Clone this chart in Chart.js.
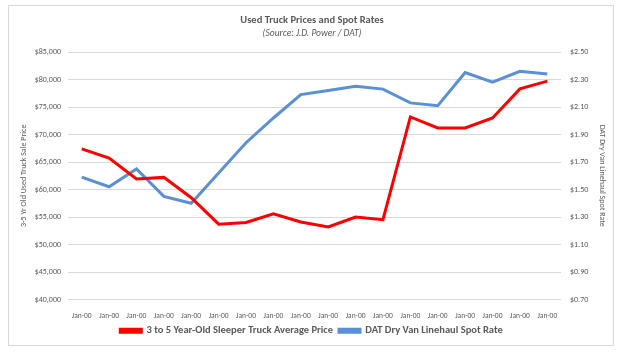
<!DOCTYPE html>
<html><head><meta charset="utf-8">
<script src="https://cdn.jsdelivr.net/npm/chart.js@4.4.1/dist/chart.umd.min.js"></script>
<style>
html,body{margin:0;padding:0;background:#fff;}
#wrap{position:relative;width:624px;height:355px;}
#frame{position:absolute;left:8px;top:5px;width:606px;height:341px;border:1px solid #d9d9d9;box-sizing:border-box;}
canvas{position:absolute;left:0;top:0;}
</style></head>
<body>
<div id="wrap"><div id="frame"></div><canvas id="c" width="624" height="355"></canvas></div>
<script>
const categories = ["Jan-00","Jan-00","Jan-00","Jan-00","Jan-00","Jan-00","Jan-00","Jan-00","Jan-00","Jan-00","Jan-00","Jan-00","Jan-00","Jan-00","Jan-00","Jan-00","Jan-00","Jan-00"];
const truckPrice = [67400,65700,61900,62200,58500,53700,54000,55600,54100,53200,55000,54500,73200,71200,71200,73000,78300,79700];
const spotRate = [1.59,1.52,1.65,1.45,1.40,1.62,1.84,2.02,2.19,2.22,2.25,2.23,2.13,2.11,2.35,2.28,2.36,2.34];
const titleText = "Used Truck Prices and Spot Rates";
const subtitleText = "(Source: J.D. Power / DAT)";
const FONT = "Carlito, 'Open Sans', 'Liberation Sans', sans-serif";
const GREY = '#595959';

const titlePlugin = {
  id:'customTitle',
  afterDraw(chart){
    const ctx = chart.ctx;
    ctx.save();
    ctx.fillStyle = GREY;
    ctx.textAlign = 'center';
    ctx.textBaseline = 'middle';
    ctx.font = "bold 10.5px " + FONT;
    ctx.fillText(titleText, 312, 20);
    ctx.font = "italic 9.5px " + FONT;
    ctx.fillText(subtitleText, 312, 34);
    ctx.restore();
  }
};

new Chart(document.getElementById('c'), {
  type:'line',
  data:{
    labels: categories,
    datasets:[
      {label:'3 to 5 Year-Old Sleeper Truck Average Price', data: truckPrice, borderColor:'#ff0000', backgroundColor:'#ff0000', borderWidth:3, pointRadius:0, yAxisID:'y', tension:0},
      {label:'DAT Dry Van Linehaul Spot Rate', data: spotRate, borderColor:'#5b8fd6', backgroundColor:'#5b8fd6', borderWidth:3, pointRadius:0, yAxisID:'y1', tension:0}
    ]
  },
  options:{
    responsive:false, animation:false,
    layout:{padding:{top:52, left:8, right:9, bottom:9}},
    plugins:{
      title:{display:false},
      tooltip:{enabled:false},
      legend:{position:'bottom', labels:{usePointStyle:false, boxWidth:21, boxHeight:3, padding:6, color:GREY, font:{family:FONT, size:10.5, weight:'bold'}}}
    },
    scales:{
      x:{offset:true, grid:{display:false}, border:{display:false},
         ticks:{color:GREY, font:{family:FONT, size:7.5}, maxRotation:0, autoSkip:false, padding:4},
         afterFit(s){s.height=20;}},
      y:{position:'left', min:40000, max:85000, grid:{color:'#d9d9d9', drawTicks:false}, border:{display:false},
         ticks:{stepSize:5000, color:GREY, font:{family:FONT, size:8}, padding:7, callback:v=>'$'+v.toLocaleString('en-US')},
         title:{display:true, text:'3-5 Yr Old Used Truck Sale Price', color:GREY, font:{family:FONT, size:8}, padding:{top:11,bottom:0}},
         afterFit(s){s.width=60;}},
      y1:{position:'right', min:0.70, max:2.50, grid:{display:false, drawTicks:false}, border:{display:false},
         ticks:{stepSize:0.20, color:GREY, font:{family:FONT, size:8}, padding:9, callback:v=>'$'+v.toFixed(2)},
         title:{display:true, text:'DAT Dry Van Linehaul Spot Rate', color:GREY, font:{family:FONT, size:8}, padding:{top:8,bottom:0}},
         afterFit(s){s.width=54;}}
    }
  },
  plugins:[titlePlugin]
});
</script>
</body></html>
